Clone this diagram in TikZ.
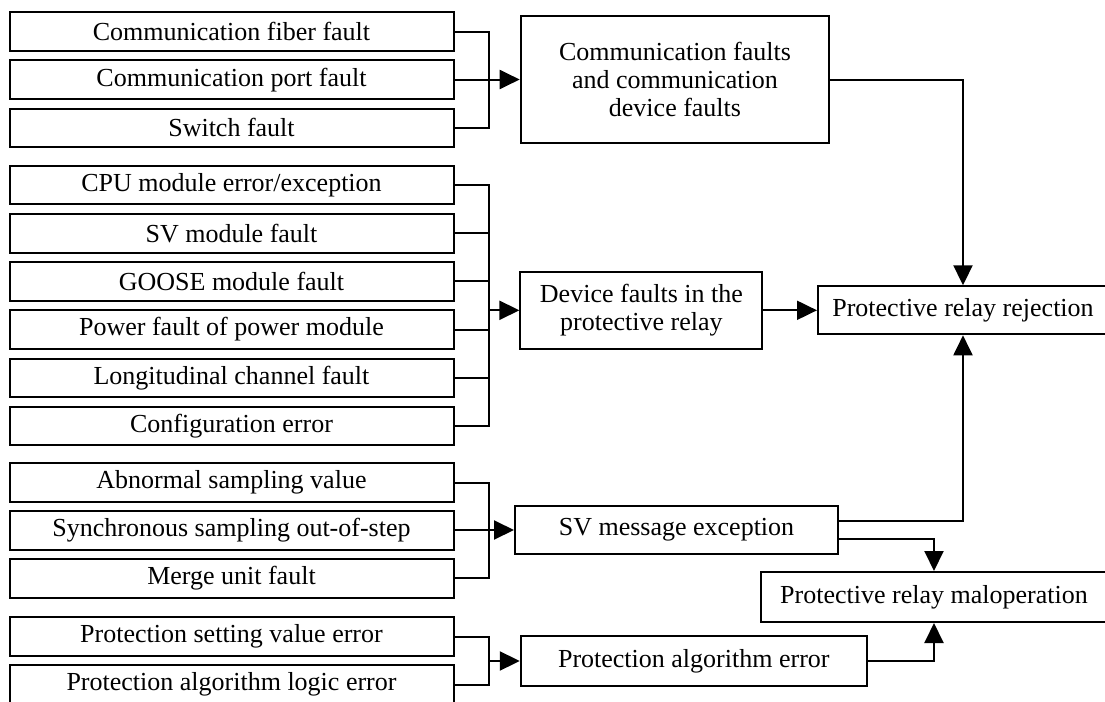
\documentclass[tikz,border=0pt]{standalone}
\usepackage{fontspec}
\setmainfont{Liberation Serif}
\usetikzlibrary{arrows.meta,calc}
\tikzset{
  x=0.5pt,y=-0.5pt,
  box/.style={draw=black,line width=1pt,inner sep=0pt,align=center,
    font=\fontsize{13}{14}\selectfont},
  leftbox/.style={box,minimum width=222pt,minimum height=19.3pt},
  wire/.style={draw=black,line width=1pt},
  arr/.style={wire,-{Triangle[length=10pt,width=9.5pt]}}
}
\begin{document}
\begin{tikzpicture}
\useasboundingbox (0,0) rectangle (1105,702);
\clip (0,0) rectangle (1105,702);
\fill[white] (0,0) rectangle (1105,702);
\coordinate (busx) at (489,0);
% group 1
\node[leftbox] (a1) at (231.5,31.5) {Communication fiber fault};
\node[leftbox] (a2) at (231.5,79.7) {Communication port fault};
\node[leftbox] (a3) at (231.5,127.9) {Switch fault};
% group 2
\node[leftbox] (b1) at (231.5,185) {CPU module error/exception};
\node[leftbox] (b2) at (231.5,233.2) {SV module fault};
\node[leftbox] (b3) at (231.5,281.4) {GOOSE module fault};
\node[leftbox] (b4) at (231.5,329.6) {Power fault of power module};
\node[leftbox] (b5) at (231.5,377.8) {Longitudinal channel fault};
\node[leftbox] (b6) at (231.5,426) {Configuration error};
% group 3
\node[leftbox] (c1) at (231.5,482.5) {Abnormal sampling value};
\node[leftbox] (c2) at (231.5,530.3) {Synchronous sampling out-of-step};
\node[leftbox] (c3) at (231.5,578.3) {Merge unit fault};
% group 4
\node[leftbox] (d1) at (231.5,636.5) {Protection setting value error};
\node[leftbox] (d2) at (231.5,684.7) {Protection algorithm logic error};
% middle boxes
\node[box,minimum width=154.3pt,minimum height=63.3pt] (comm) at (675,79.5)
  {Communication faults\\and communication\\device faults};
\node[box,minimum width=121pt,minimum height=38.5pt] (dev) at (641.4,310.3)
  {Device faults in the\\protective relay};
\node[box,minimum width=161.5pt,minimum height=24pt] (sv) at (676.5,530)
  {SV message exception};
\node[box,minimum width=173pt,minimum height=25pt] (pa) at (693.8,661)
  {Protection algorithm error};
% right boxes
\node[box,minimum width=145pt,minimum height=24pt] (rej) at (963,310.3)
  {Protective relay rejection};
\node[box,minimum width=173pt,minimum height=25pt] (mal) at (934,597)
  {Protective relay maloperation};
% group 1 wiring
\draw[wire] (a1.east) -- (a1.east -| busx) -- (a3.east -| busx) -- (a3.east);
\draw[wire] (a2.east) -- (a2.east -| busx);
\draw[arr] (comm.west -| busx) -- (comm.west);
% group 2 wiring
\draw[wire] (b1.east) -- (b1.east -| busx) -- (b6.east -| busx) -- (b6.east);
\foreach \n in {b2,b3,b4,b5} {\draw[wire] (\n.east) -- (\n.east -| busx);}
\draw[arr] (dev.west -| busx) -- (dev.west);
% group 3 wiring
\draw[wire] (c1.east) -- (c1.east -| busx) -- (c3.east -| busx) -- (c3.east);
\draw[wire] (c2.east) -- (c2.east -| busx);
\draw[arr] (sv.west -| busx) -- (sv.west);
% group 4 wiring
\draw[wire] (d1.east) -- (d1.east -| busx) -- (d2.east -| busx) -- (d2.east);
\draw[arr] (pa.west -| busx) -- (pa.west);
% right side
\draw[arr] (comm.east) -| (rej.north);
\draw[arr] (dev.east) -- (rej.west);
\draw[arr] ($(sv.east)+(0,-9)$) -| (rej.south);
\draw[arr] ($(sv.east)+(0,9.3)$) -| (mal.north);
\draw[arr] (pa.east) -| (mal.south);
\end{tikzpicture}
\end{document}
